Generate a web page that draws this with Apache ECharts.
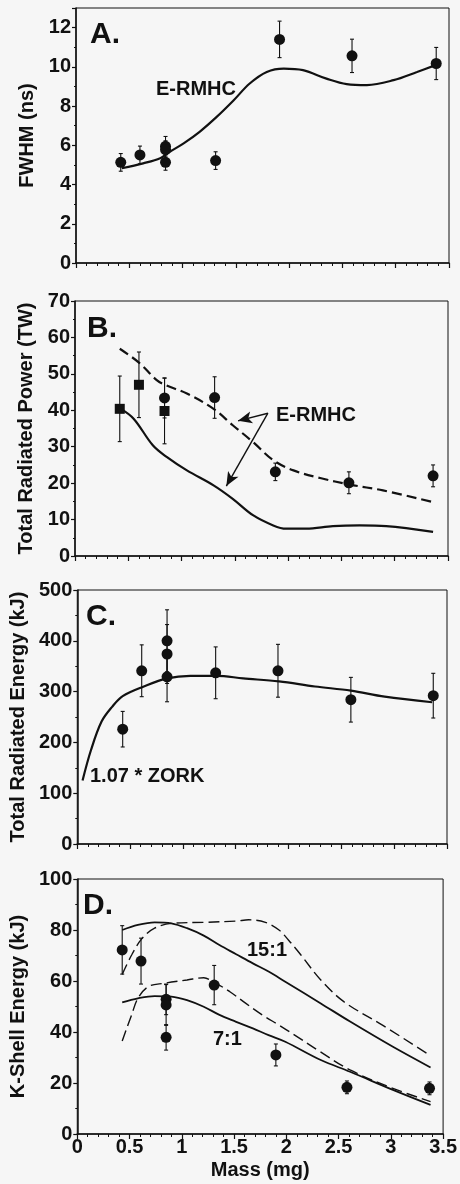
<!DOCTYPE html>
<html><head><meta charset="utf-8">
<script src="https://cdn.jsdelivr.net/npm/echarts@6/dist/echarts.min.js"></script>
<style>html,body{margin:0;padding:0;background:#f6f6f6}#c{width:460px;height:1184px}</style>
</head><body><div id="c"></div>
<script>
// ---- Panel A: FWHM ----
const massA = [0.42, 0.60, 0.84, 0.84, 0.84, 1.31, 1.91, 2.59, 3.38];
const fwhmA = [5.13, 5.51, 5.95, 5.78, 5.13, 5.22, 11.40, 10.56, 10.17];
const fwhmErrA = [0.45, 0.45, 0.50, 0.45, 0.40, 0.45, 0.93, 0.85, 0.82];
const ermhcMassA = [0.43, 0.63, 0.79, 0.88, 1.01, 1.16, 1.32, 1.48, 1.63, 1.79, 1.95, 2.13, 2.35, 2.54, 2.73, 2.98, 3.20, 3.38];
const ermhcA = [4.83, 5.08, 5.34, 5.67, 6.10, 6.69, 7.45, 8.30, 9.15, 9.74, 9.91, 9.83, 9.40, 9.12, 9.07, 9.32, 9.74, 10.10];

// ---- Panel B: Total radiated power ----
const massBsq = [0.42, 0.60, 0.84];
const powerBsq = [40.4, 47.0, 39.8];
const powerErrBsq = [9.0, 9.0, 9.0];
const massBci = [0.84, 1.31, 1.88, 2.57, 3.36];
const powerBci = [43.4, 43.5, 23.1, 20.1, 22.0];
const powerErrBci = [5.5, 5.7, 2.4, 3.0, 3.0];
const dashMassB = [0.42, 0.60, 0.77, 0.86, 1.05, 1.30, 1.48, 1.67, 1.86, 2.05, 2.30, 2.58, 2.89, 3.36];
const dashB = [56.9, 53.1, 48.2, 46.8, 44.6, 40.4, 35.9, 31.3, 26.3, 23.5, 21.4, 19.6, 18.0, 14.8];
const solidMassB = [0.42, 0.55, 0.73, 0.86, 1.05, 1.30, 1.48, 1.67, 1.86, 1.98, 2.17, 2.42, 2.67, 2.92, 3.36];
const solidB = [40.6, 37.7, 30.4, 27.2, 23.5, 19.4, 15.7, 11.2, 8.4, 7.5, 7.5, 8.2, 8.4, 8.2, 6.6];

// ---- Panel C: Total radiated energy ----
const massC = [0.43, 0.61, 0.85, 0.85, 0.85, 1.31, 1.90, 2.59, 3.37];
const energyC = [226, 341, 400, 374, 329, 337, 341, 284, 292];
const energyErrC = [35, 51, 61, 58, 49, 51, 52, 44, 44];
const zorkMassC = [0.05, 0.13, 0.23, 0.33, 0.43, 0.63, 0.85, 1.07, 1.32, 1.57, 1.91, 2.25, 2.59, 2.91, 3.36];
const zorkC = [125, 185, 241, 270, 291, 310, 326, 331, 331, 326, 320, 310, 302, 290, 279];

// ---- Panel D: K-shell energy ----
const massD = [0.43, 0.61, 0.85, 0.85, 0.85, 1.31, 1.90, 2.58, 3.37];
const kshellD = [72.2, 67.8, 52.8, 50.6, 37.9, 58.4, 31.0, 18.3, 17.9];
const kshellErrD = [9.5, 9.0, 6.0, 8.0, 5.0, 7.7, 4.3, 2.5, 2.5];
const solid15Mass = [0.43, 0.58, 0.74, 0.90, 1.05, 1.21, 1.36, 1.52, 1.68, 1.83, 1.99, 2.33, 2.61, 3.02, 3.38];
const solid15 = [80.0, 82.0, 83.0, 82.6, 80.7, 77.8, 74.1, 70.5, 66.9, 63.7, 59.7, 51.2, 44.1, 34.2, 26.1];
const dash15Mass = [0.43, 0.52, 0.62, 0.74, 0.90, 1.21, 1.52, 1.64, 1.80, 1.93, 2.02, 2.14, 2.33, 2.55, 2.92, 3.38];
const dash15 = [62.6, 70.2, 76.7, 80.7, 82.6, 83.0, 83.5, 84.0, 83.0, 80.0, 76.1, 70.2, 60.4, 51.9, 42.7, 30.7];
const solid7Mass = [0.43, 0.58, 0.74, 0.90, 1.05, 1.21, 1.36, 1.52, 1.68, 1.83, 1.99, 2.33, 2.61, 3.02, 3.38];
const solid7 = [51.6, 53.2, 54.1, 53.9, 52.5, 49.9, 46.7, 44.0, 41.4, 38.8, 36.2, 29.0, 24.4, 17.3, 11.4];
const dash7Mass = [0.43, 0.52, 0.58, 0.68, 0.83, 1.05, 1.21, 1.30, 1.46, 1.61, 1.77, 1.93, 2.08, 2.30, 2.61, 3.02, 3.38];
const dash7 = [36.5, 46.7, 53.2, 57.8, 59.1, 60.4, 61.3, 59.7, 55.8, 51.3, 46.7, 42.7, 38.8, 32.9, 25.1, 17.9, 12.7];

// ---- Axis ticks ----
const massTicks = [0, 0.5, 1, 1.5, 2, 2.5, 3, 3.5];

const INK = '#111111';
const FONT = '"Liberation Sans", Arial, Helvetica, sans-serif';
const zip = (xs, ys) => xs.map((x, i) => [x, ys[i]]);
const errs = (xs, ys, es) => xs.map((x, i) => [x, ys[i] - es[i], ys[i] + es[i]]);

function errRender(params, api) {
  const x = api.value(0);
  const p1 = api.coord([x, api.value(2)]);
  const p2 = api.coord([x, api.value(1)]);
  const w = 2;
  const st = { stroke: INK, lineWidth: 1.1 };
  return { type: 'group', children: [
    { type: 'line', shape: { x1: p1[0], y1: p1[1], x2: p2[0], y2: p2[1] }, style: st },
    { type: 'line', shape: { x1: p1[0] - w, y1: p1[1], x2: p1[0] + w, y2: p1[1] }, style: st },
    { type: 'line', shape: { x1: p2[0] - w, y1: p2[1], x2: p2[0] + w, y2: p2[1] }, style: st }
  ]};
}

const grids = [
  { left: 76, top: 8, width: 373, height: 255 },
  { left: 75, top: 301, width: 373, height: 255 },
  { left: 73, top: 590, width: 374, height: 254 },
  { left: 71, top: 879, width: 374, height: 255 }
].map(g => Object.assign(g, { show: true, borderColor: INK, borderWidth: 1, backgroundColor: 'transparent' }));

const labelStyle = { color: INK, fontFamily: FONT, fontWeight: 'bold', fontSize: 20 };

function xAxis(i) {
  const last = i === 3;
  return {
    type: 'value', gridIndex: i, min: 0, max: 3.5, interval: 0.5,
    axisLine: { show: true, lineStyle: { color: INK, width: 1.5 } },
    axisTick: { show: true, length: 5, lineStyle: { color: INK, width: 1.2 } },
    minorTick: { show: true, splitNumber: 5, length: 3, lineStyle: { color: INK, width: 1 } },
    splitLine: { show: false },
    axisLabel: Object.assign({ show: last, margin: 3, formatter: v => massTicks.includes(v) ? String(v) : '' }, labelStyle),
    name: last ? 'Mass (mg)' : '', nameLocation: 'middle', nameGap: 26,
    nameTextStyle: labelStyle
  };
}
function yAxis(i, name, max, interval, gap) {
  return {
    type: 'value', gridIndex: i, min: 0, max: max, interval: interval,
    axisLine: { show: true, lineStyle: { color: INK, width: 1.5 } },
    axisTick: { show: true, length: 4, lineStyle: { color: INK, width: 1.2 } },
    minorTick: { show: true, splitNumber: 2, length: 2, lineStyle: { color: INK, width: 1 } },
    splitLine: { show: false },
    axisLabel: Object.assign({ margin: 5, showMaxLabel: max % interval === 0 }, labelStyle),
    name: name, nameLocation: 'middle', nameGap: gap, nameRotate: 90,
    nameTextStyle: labelStyle
  };
}

function errSeries(i, data) {
  return { type: 'custom', xAxisIndex: i, yAxisIndex: i, renderItem: errRender, data: data, encode: { x: 0, y: [1, 2] }, z: 3, silent: true };
}
function dots(i, data, symbol, size) {
  return { type: 'scatter', xAxisIndex: i, yAxisIndex: i, data: data, symbol: symbol, symbolSize: size, itemStyle: { color: INK, opacity: 1 }, z: 4, silent: true };
}
function curve(i, data, dashed, width, dash) {
  return { type: 'line', xAxisIndex: i, yAxisIndex: i, data: data, smooth: 0.35, showSymbol: false, silent: true,
    lineStyle: { color: INK, width: width, type: dashed ? (dash || [10, 5]) : 'solid' }, z: 2 };
}

const txt = (text, left, top, size) => ({ text: text, left: left, top: top, padding: 0,
  textStyle: { color: INK, fontFamily: FONT, fontWeight: 'bold', fontSize: size, lineHeight: size } });

const arrowB = {
  silent: true, symbol: ['none', 'arrow'], symbolSize: [9, 14], label: { show: false },
  lineStyle: { color: INK, width: 1.4, type: 'solid' },
  data: [
    [{ coord: [1.81, 39.2] }, { coord: [1.53, 37.1] }],
    [{ coord: [1.81, 39.2] }, { coord: [1.42, 19.2] }]
  ]
};

const dashBSeries = curve(1, zip(dashMassB, dashB), true, 2.2, [10, 5]);
dashBSeries.markLine = arrowB;

const option = {
  backgroundColor: '#f6f6f6',
  animation: false,
  title: [
    txt('A.', 90, 20, 30), txt('B.', 87, 314, 30), txt('C.', 86, 602, 30), txt('D.', 83, 891, 30),
    txt('E-RMHC', 156, 79, 20), txt('E-RMHC', 276, 405, 20),
    txt('1.07 * ZORK', 90, 766, 20), txt('15:1', 247, 940, 20), txt('7:1', 213, 1029, 20)
  ],
  grid: grids,
  xAxis: [xAxis(0), xAxis(1), xAxis(2), xAxis(3)],
  yAxis: [
    yAxis(0, 'FWHM (ns)', 13, 2, 31),
    yAxis(1, 'Total Radiated Power (TW)', 70, 10, 33),
    yAxis(2, 'Total Radiated Energy (kJ)', 500, 100, 41),
    yAxis(3, 'K-Shell Energy (kJ)', 100, 20, 41)
  ],
  series: [
    curve(0, zip(ermhcMassA, ermhcA), false, 2.2),
    errSeries(0, errs(massA, fwhmA, fwhmErrA)),
    dots(0, zip(massA, fwhmA), 'circle', 11),

    dashBSeries,
    curve(1, zip(solidMassB, solidB), false, 2.2),
    errSeries(1, errs(massBsq, powerBsq, powerErrBsq)),
    errSeries(1, errs(massBci, powerBci, powerErrBci)),
    dots(1, zip(massBsq, powerBsq), 'rect', 10),
    dots(1, zip(massBci, powerBci), 'circle', 11),

    curve(2, zip(zorkMassC, zorkC), false, 2.2),
    errSeries(2, errs(massC, energyC, energyErrC)),
    dots(2, zip(massC, energyC), 'circle', 11),

    curve(3, zip(solid15Mass, solid15), false, 1.8),
    curve(3, zip(dash15Mass, dash15), true, 1.4, [11, 5]),
    curve(3, zip(solid7Mass, solid7), false, 1.8),
    curve(3, zip(dash7Mass, dash7), true, 1.4, [11, 5]),
    errSeries(3, errs(massD, kshellD, kshellErrD)),
    dots(3, zip(massD, kshellD), 'circle', 11)
  ]
};
echarts.init(document.getElementById('c')).setOption(option);
</script></body></html>
